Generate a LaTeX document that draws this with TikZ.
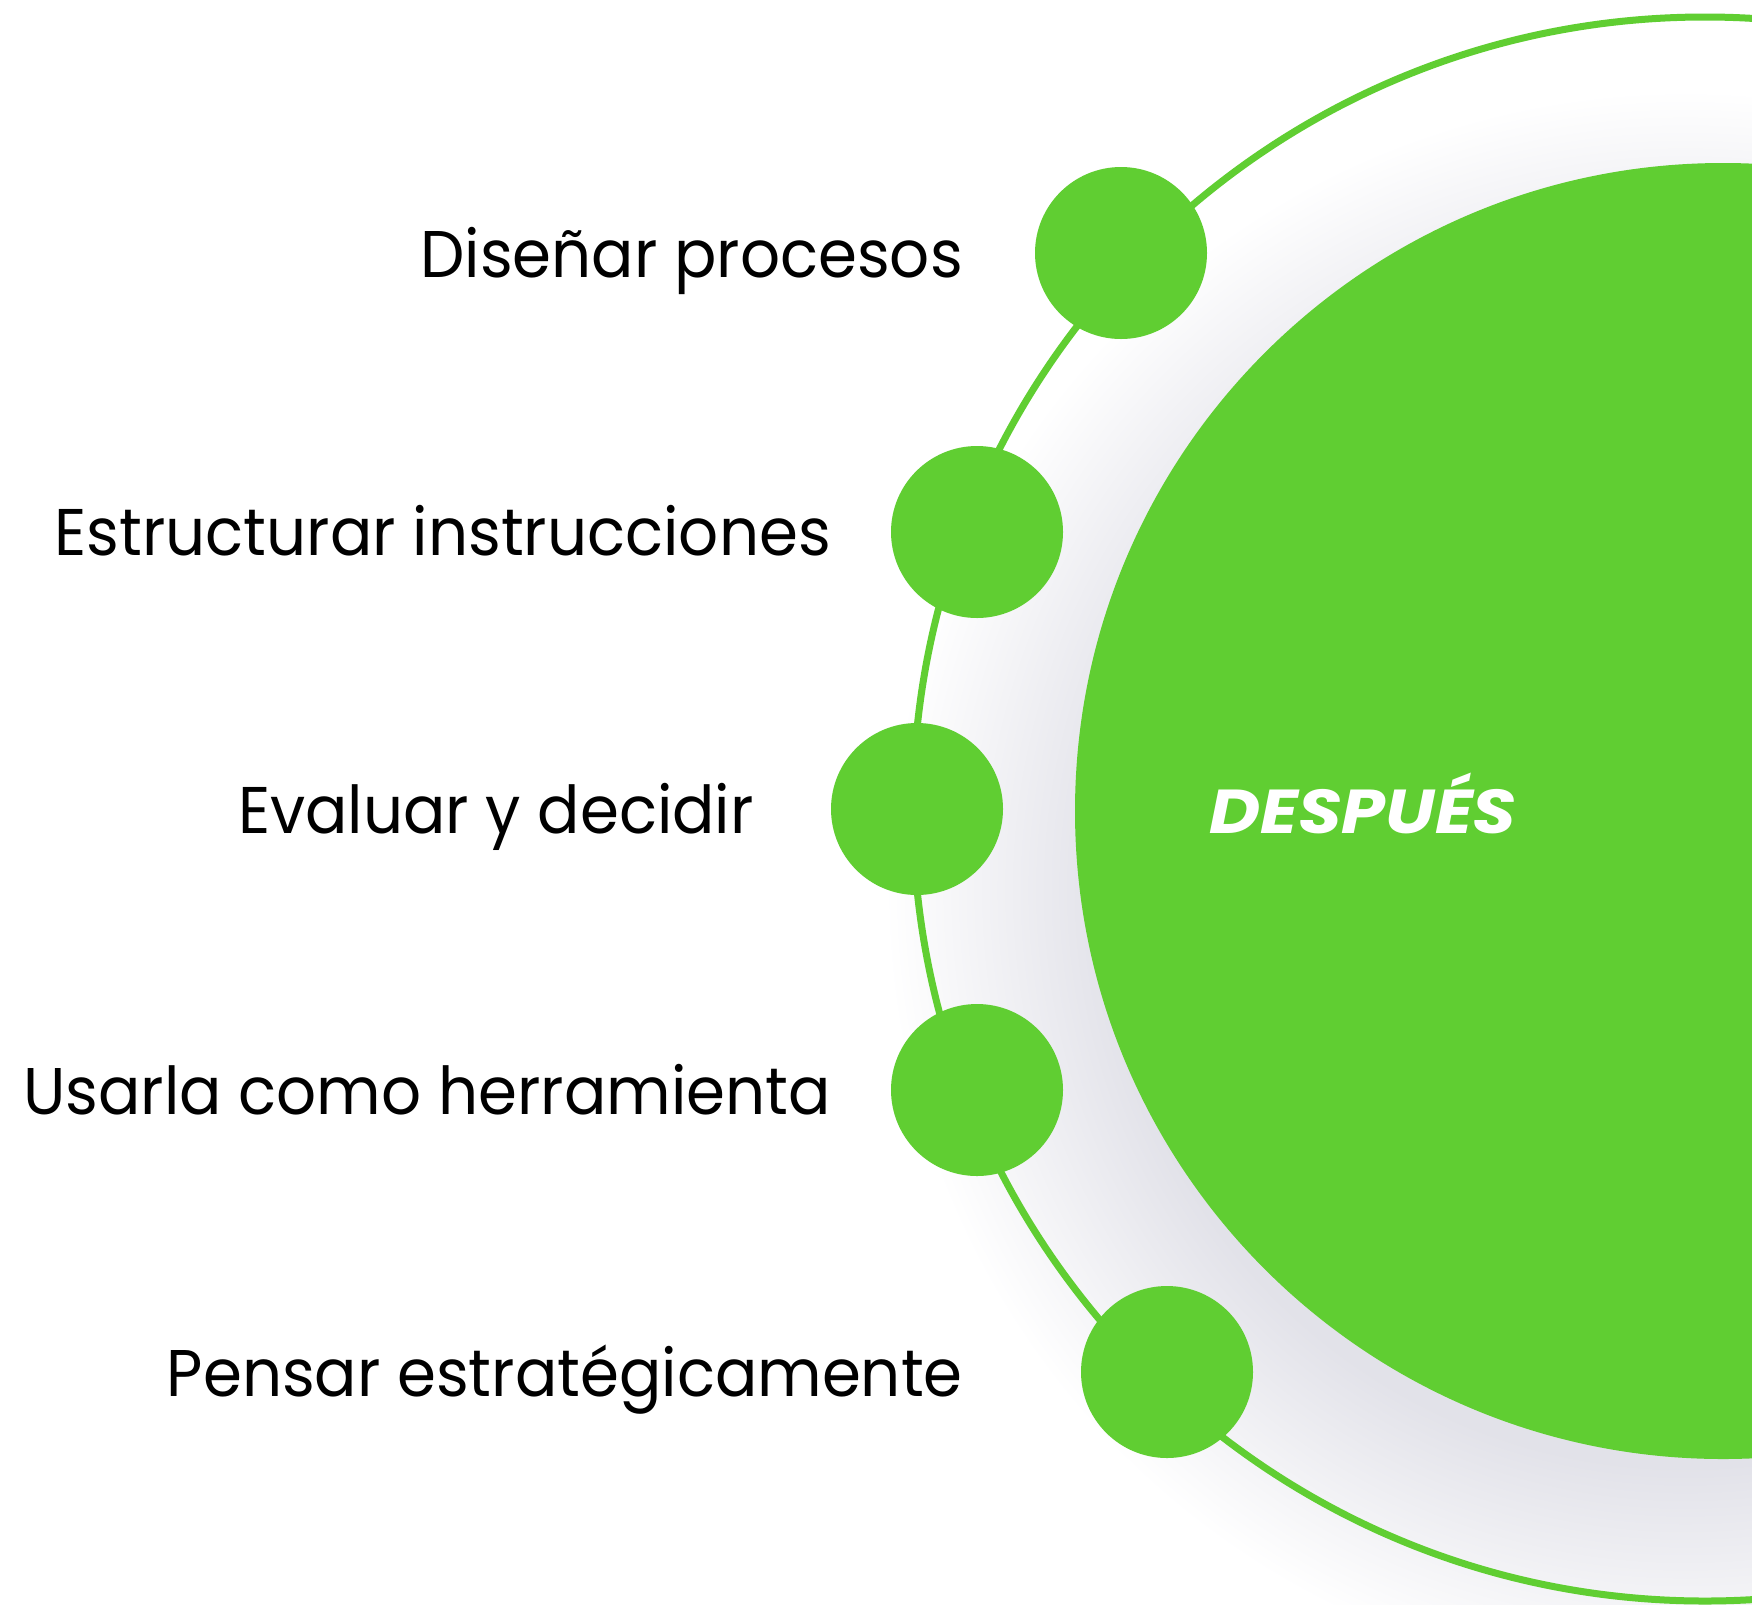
\documentclass[tikz,border=0pt]{standalone}
\usepackage{fontspec}
\setmainfont{Poppins}[FakeStretch=0.95]
\newfontfamily\titlefont{Poppins}[FakeStretch=1.13]
\definecolor{grn}{RGB}{96,206,50}
\definecolor{shd}{RGB}{226,226,233}
\pgfdeclareradialshading{softshadow}{\pgfpoint{0bp}{0bp}}{color(0bp)=(shd); color(18bp)=(shd); color(25bp)=(white); color(50bp)=(white)}
\begin{document}
\begin{tikzpicture}[x=1pt,y=-1pt,
  dot/.style={circle, fill=grn, draw=none, inner sep=0pt, minimum size=172pt},
  lbl/.style={anchor=base east, inner sep=0pt, text=black, font=\fontsize{66}{70}\selectfont},
  ringline/.style={draw=grn, line width=7pt}]
\useasboundingbox (0,0) rectangle (1752,1604);
\clip (0,0) rectangle (1752,1604);
\fill[white] (0,0) rectangle (1752,1604);
% soft shadow of the big disc
\shade[shading=softshadow] (1685,890) circle[radius=800pt];
% outer ring
\draw[ringline] (1705,809) circle[radius=792pt];
% big disc
\node[circle, fill=grn, inner sep=0pt, minimum size=1296pt] (big) at (1723,811) {};
% small dots
\node[dot] (d1) at (1121,253) {};
\node[dot] (d2) at (977,532) {};
\node[dot] (d3) at (917,809) {};
\node[dot] (d4) at (977,1090) {};
\node[dot] (d5) at (1167,1372) {};
% labels
\node[lbl] (t1) at (963,277) {Diseñar procesos};
\node[lbl] (t2) at (831,555) {Estructurar instrucciones};
\node[lbl] (t3) at (754,833) {Evaluar y decidir};
\node[lbl] (t4) at (831,1114) {Usarla como herramienta};
\node[lbl] (t5) at (963,1396) {Pensar estratégicamente};
\node[anchor=base, inner sep=0pt, text=white, font=\titlefont\fontsize{62}{64}\selectfont\bfseries\itshape] (main) at (1363,833) {DESPUÉS};
\end{tikzpicture}
\end{document}
